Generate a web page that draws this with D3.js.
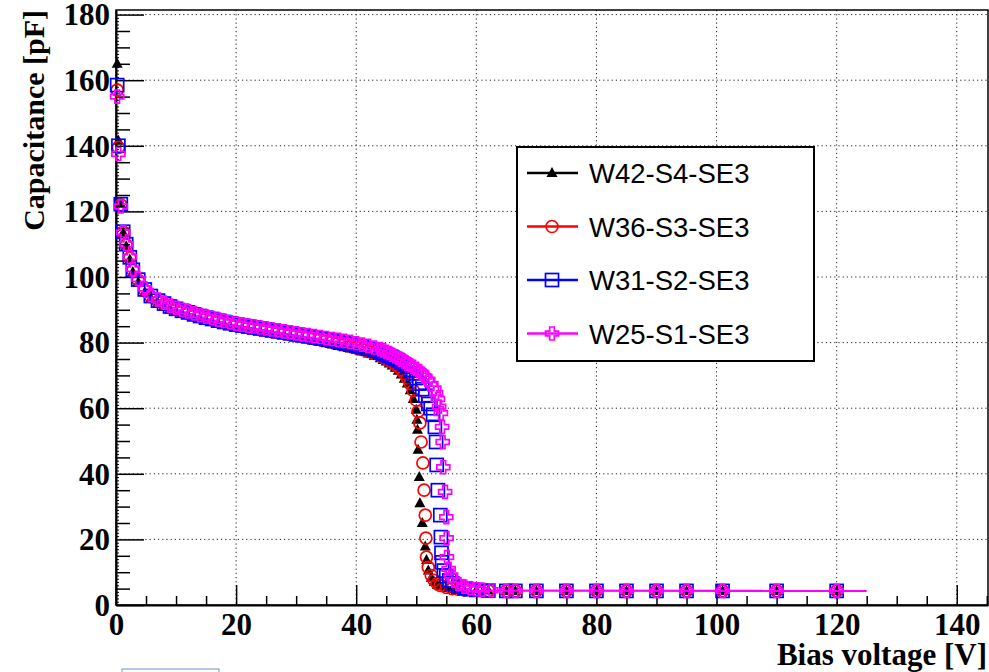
<!DOCTYPE html>
<html>
<head>
<meta charset="utf-8">
<script src="https://cdn.jsdelivr.net/npm/d3@7"></script>
<style>
  body { margin: 0; background: #fff; }
  svg { display: block; }
</style>
</head>
<body>
<div id="chart"></div>
<script>
// low voltage part, shared by all four sensors
let voltLow = [0.2, 0.4, 0.8, 1.2, 1.7, 2.3, 2.8, 3.7, 4.8, 5.8, 7, 8, 9, 10, 11, 12, 13, 14, 15, 16, 17, 18, 19, 20,
               21, 22, 23, 24, 25, 26, 27, 28, 29, 30, 31, 32, 33, 34, 35, 36, 37, 38, 39, 40, 41, 42, 43, 44];
let w42Low = [165, 141.5, 122.3, 113.5, 109.4, 105.3, 101.5, 98.4, 95.4, 93.4, 92, 91.1, 90.2, 89.5, 88.9, 88.4, 87.8, 87.3, 86.8, 86.4, 85.9, 85.5, 85.1, 84.7,
              84.4, 84.1, 83.8, 83.5, 83.2, 82.9, 82.6, 82.3, 82, 81.6, 81.3, 81, 80.6, 80.2, 79.8, 79.4, 79, 78.6, 78.2, 77.8, 77.3, 76.7, 76, 75.2];
let w36Low = [157, 139.5, 122, 113.7, 109.8, 105.8, 102, 99, 96, 94, 92.6, 91.7, 90.8, 90.1, 89.5, 89, 88.4, 87.9, 87.4, 87, 86.5, 86.1, 85.7, 85.3,
              85, 84.7, 84.4, 84.1, 83.8, 83.5, 83.2, 82.9, 82.6, 82.3, 82, 81.7, 81.4, 81, 80.6, 80.2, 79.8, 79.4, 78.9, 78.4, 77.9, 77.3, 76.7, 76];
let w31Low = [158.5, 140, 122.2, 113.8, 110, 106, 102.2, 99.2, 96.2, 94.2, 92.8, 91.9, 91, 90.3, 89.7, 89.2, 88.6, 88.1, 87.6, 87.2, 86.7, 86.3, 85.9, 85.5,
              85.2, 84.9, 84.6, 84.3, 84, 83.7, 83.4, 83.1, 82.8, 82.5, 82.2, 81.9, 81.6, 81.3, 81, 80.6, 80.2, 79.8, 79.4, 79, 78.6, 78.1, 77.6, 77];
let w25Low = [155, 137.5, 121.5, 113.6, 110, 106.1, 102.4, 99.4, 96.5, 94.5, 93.1, 92.2, 91.3, 90.6, 90, 89.5, 88.9, 88.4, 87.9, 87.5, 87, 86.6, 86.2, 85.8,
              85.5, 85.2, 84.9, 84.6, 84.3, 84, 83.7, 83.4, 83.1, 82.8, 82.5, 82.3, 82, 81.7, 81.4, 81.1, 80.8, 80.5, 80.2, 79.8, 79.4, 79, 78.5, 78];

// knee, drop and tail (finer steps)
let w42HighV = [44.5, 45, 45.5, 46, 46.5, 47, 47.5, 48, 48.5, 49, 49.5, 50, 50.1, 50.2, 50.3, 50.5, 50.6, 51, 51.5, 51.7, 52, 52.5, 53, 53.5, 54, 55, 56, 57, 58, 60, 62];
let w42HighC = [74.7, 74.2, 73.6, 73, 72.3, 71.4, 70.3, 69, 67.5, 65.5, 62.8, 59.5, 56.5, 53.4, 47.3, 39, 31, 25, 17.8, 13.7, 10.5, 8.3, 7, 6.2, 5.7, 5.2, 4.9, 4.7, 4.6, 4.5, 4.4];
let w36HighV = [44.5, 45, 45.5, 46, 46.5, 47, 47.5, 48, 48.5, 49, 49.5, 50, 50.3, 50.6, 50.8, 51.1, 51.3, 51.5, 51.6, 51.7, 52, 52.5, 53, 53.5, 54, 55, 56, 57, 58, 60, 62];
let w36HighC = [75.5, 75, 74.5, 74, 73.3, 72.6, 71.7, 70.6, 69.2, 67.5, 65.4, 62.5, 59, 55.5, 49.7, 43.3, 35, 27.4, 20.4, 14.6, 11.5, 9, 7.5, 6.5, 6, 5.4, 5, 4.8, 4.6, 4.5, 4.4];
let w31HighV = [44.5, 45, 45.5, 46, 46.5, 47, 47.5, 48, 48.5, 49, 49.5, 50, 50.5, 51, 51.5, 52, 52.4, 52.8, 53.1, 53.3, 53.4, 53.6, 54, 54.1, 54.2, 54.3, 54.6, 55, 55.5, 56, 57, 58, 59, 60, 62];
let w31HighC = [76.7, 76.3, 75.9, 75.5, 75, 74.5, 73.9, 73.3, 72.6, 71.7, 70.6, 69.2, 67.5, 65.8, 63.8, 61.3, 60, 58, 54.3, 49.7, 42.7, 35, 27.4, 20.7, 15.9, 13, 10.5, 8.8, 7.5, 6.6, 5.6, 5.1, 4.8, 4.6, 4.4];
let w25HighV = [44.5, 45, 45.5, 46, 46.5, 47, 47.5, 48, 48.5, 49, 49.5, 50, 50.5, 51, 51.5, 52, 52.5, 53, 53.3, 53.6, 53.8, 54.1, 54.3, 54.4, 54.5, 54.8, 55, 55.05, 55.1, 55.4, 55.8, 56.3, 57, 58, 59, 60, 61, 62.5];
let w25HighC = [77.6, 77.2, 76.8, 76.3, 75.8, 75.3, 74.8, 74.2, 73.6, 73.1, 72.6, 72, 71.3, 70.5, 69.6, 68.6, 67.4, 66, 64.7, 62.8, 60.5, 58.5, 54.3, 49.7, 42, 34.5, 26.8, 20.4, 14.6, 11, 9, 7.5, 6.4, 5.6, 5.1, 4.8, 4.6, 4.5];

// fully depleted part
let voltFlat = [65, 66.5, 70, 75, 80, 85, 90, 95, 101, 110, 120];
let w42Flat = [4.3, 4.3, 4.3, 4.3, 4.3, 4.3, 4.3, 4.3, 4.3, 4.3, 4.3];
let w36Flat = [4.3, 4.3, 4.3, 4.3, 4.3, 4.3, 4.3, 4.3, 4.3, 4.3, 4.3];
let w31Flat = [4.3, 4.3, 4.3, 4.3, 4.3, 4.3, 4.3, 4.3, 4.3, 4.3, 4.3];
let w25Flat = [4.3, 4.3, 4.3, 4.3, 4.3, 4.3, 4.3, 4.3, 4.3, 4.3, 4.3];
// magenta line drawn along the plateau, ending past the last point
let w25LineV = [60, 125];
let w25LineC = [4.4, 4.3];

let names = ["W42-S4-SE3", "W36-S3-SE3", "W31-S2-SE3", "W25-S1-SE3"];
let colors = ["#000000", "#ff0000", "#0000ff", "#ff00ff"];
let markers = ["triangle", "circle", "square", "cross"];

let xTicks = [0, 20, 40, 60, 80, 100, 120, 140];
let yTicks = [0, 20, 40, 60, 80, 100, 120, 140, 160, 180];

let screen = {width: 989, height: 672};
let frame = {left: 116, right: 988, top: 10, bottom: 605};

let join = function(vl, cl, vh, ch, vf, cf) {
    let pts = [];
    vl.forEach(function(v, i) { pts.push({v: v, c: cl[i]}); });
    vh.forEach(function(v, i) { pts.push({v: v, c: ch[i]}); });
    vf.forEach(function(v, i) { pts.push({v: v, c: cf[i]}); });
    return pts;
};

let series = [
    join(voltLow, w42Low, w42HighV, w42HighC, voltFlat, w42Flat),
    join(voltLow, w36Low, w36HighV, w36HighC, voltFlat, w36Flat),
    join(voltLow, w31Low, w31HighV, w31HighC, voltFlat, w31Flat),
    join(voltLow, w25Low, w25HighV, w25HighC, voltFlat, w25Flat)
];

let xScale = d3.scaleLinear().domain([0, 145.2]).range([frame.left, frame.right]);
let yScale = d3.scaleLinear().domain([0, 181.4]).range([frame.bottom, frame.top]);

let svg = d3.select("#chart").append("svg")
    .attr("width", screen.width)
    .attr("height", screen.height);

// dotted grid
let grid = svg.append("g");
grid.selectAll(".gx").data(xTicks.filter(function(t) { return t > 0; }))
    .enter().append("line")
    .attr("x1", function(d) { return xScale(d); }).attr("x2", function(d) { return xScale(d); })
    .attr("y1", frame.top).attr("y2", frame.bottom)
    .attr("stroke", "#222").attr("stroke-width", 1).attr("stroke-dasharray", "1.2,3");
grid.selectAll(".gy").data(yTicks.filter(function(t) { return t > 0; }))
    .enter().append("line")
    .attr("x1", frame.left).attr("x2", frame.right)
    .attr("y1", function(d) { return yScale(d); }).attr("y2", function(d) { return yScale(d); })
    .attr("stroke", "#222").attr("stroke-width", 1).attr("stroke-dasharray", "1.2,3");

// frame
svg.append("rect")
    .attr("x", frame.left).attr("y", frame.top)
    .attr("width", frame.right - frame.left).attr("height", frame.bottom - frame.top)
    .attr("fill", "none").attr("stroke", "#000").attr("stroke-width", 1.5);

// ROOT style axes, ticks pointing inside
let xAxis = svg.append("g").attr("transform", "translate(0," + frame.bottom + ")");
xAxis.call(d3.axisBottom(xScale).tickValues(d3.range(0, 146, 5)).tickSize(0).tickFormat(""));
xAxis.select(".domain").attr("stroke-width", 2);
xAxis.selectAll(".tick line")
    .attr("y2", function(d) { return d % 20 === 0 ? -20 : -9; })
    .attr("stroke-width", 1.5);
xAxis.selectAll(".tick").filter(function(d) { return d % 20 === 0; })
    .append("text")
    .attr("y", 30).attr("fill", "#000")
    .attr("text-anchor", "middle")
    .style("font-family", "'Liberation Serif', 'Times New Roman', serif")
    .style("font-weight", "bold").style("font-size", "31px")
    .text(function(d) { return d; });

let yAxis = svg.append("g").attr("transform", "translate(" + frame.left + ",0)");
yAxis.call(d3.axisLeft(yScale).tickValues(d3.range(0, 181, 1)).tickSize(0).tickFormat(""));
yAxis.select(".domain").attr("stroke-width", 2);
yAxis.selectAll(".tick line")
    .attr("x2", function(d) { return d % 20 === 0 ? 28 : (d % 5 === 0 ? 14 : 3); })
    .attr("stroke-width", function(d) { return d % 5 === 0 ? 1.5 : 1; });
yAxis.selectAll(".tick").filter(function(d) { return yTicks.indexOf(d) >= 0; })
    .append("text")
    .attr("x", -6).attr("dy", "0.33em").attr("fill", "#000")
    .attr("text-anchor", "end")
    .style("font-family", "'Liberation Serif', 'Times New Roman', serif")
    .style("font-weight", "bold").style("font-size", "31px")
    .text(function(d) { return d; });

// axis titles
svg.append("text")
    .attr("x", 987).attr("y", 665)
    .attr("text-anchor", "end")
    .style("font-family", "'Liberation Serif', 'Times New Roman', serif")
    .style("font-weight", "bold").style("font-size", "31px")
    .text("Bias voltage [V]");
svg.append("text")
    .attr("transform", "translate(44," + frame.top + ") rotate(-90)")
    .attr("text-anchor", "end")
    .style("font-family", "'Liberation Serif', 'Times New Roman', serif")
    .style("font-weight", "bold").style("font-size", "30px")
    .text("Capacitance [pF]");

// marker shapes
let drawMarker = function(g, type, color) {
    if (type === "triangle") {
        g.append("path").attr("d", "M0,-6L5.5,4L-5.5,4Z").attr("fill", color);
    } else if (type === "circle") {
        g.append("circle").attr("r", 6).attr("fill", "none").attr("stroke", color).attr("stroke-width", 1.7);
    } else if (type === "square") {
        g.append("rect").attr("x", -6.5).attr("y", -6.5).attr("width", 13).attr("height", 13)
            .attr("fill", "none").attr("stroke", color).attr("stroke-width", 1.7);
    } else {
        let a = 2.3, b = 6.5;
        g.append("path")
            .attr("d", "M" + (-a) + "," + (-b) + "H" + a + "V" + (-a) + "H" + b + "V" + a + "H" + a + "V" + b +
                       "H" + (-a) + "V" + a + "H" + (-b) + "V" + (-a) + "H" + (-a) + "Z")
            .attr("fill", "none").attr("stroke", color).attr("stroke-width", 1.7);
    }
};

let plot = svg.append("g");
series.forEach(function(pts, k) {
    let g = plot.append("g");
    if (k === 3) {
        let linePts = w25LineV.map(function(v, i) { return {v: v, c: w25LineC[i]}; });
        g.append("path")
            .datum(linePts)
            .attr("fill", "none").attr("stroke", colors[k]).attr("stroke-width", 2.2)
            .attr("d", d3.line().x(function(d) { return xScale(d.v); }).y(function(d) { return yScale(d.c); }));
    }
    g.selectAll(".m").data(pts).enter().append("g")
        .attr("transform", function(d) { return "translate(" + xScale(d.v) + "," + yScale(d.c) + ")"; })
        .each(function() { drawMarker(d3.select(this), markers[k], colors[k]); });
});

// legend
let legend = svg.append("g");
legend.append("rect")
    .attr("x", 517).attr("y", 147).attr("width", 297).attr("height", 214)
    .attr("fill", "#fff").attr("stroke", "#000").attr("stroke-width", 2);
names.forEach(function(name, k) {
    let cy = 173 + k * 53.5;
    legend.append("line")
        .attr("x1", 527).attr("x2", 578).attr("y1", cy).attr("y2", cy)
        .attr("stroke", colors[k]).attr("stroke-width", 2.5);
    let m = legend.append("g").attr("transform", "translate(552," + cy + ")");
    drawMarker(m, markers[k], colors[k]);
    legend.append("text")
        .attr("x", 589).attr("y", cy + 10)
        .style("font-family", "'Liberation Sans', Arial, sans-serif")
        .style("font-size", "27.5px")
        .text(name);
});

// stray box at the bottom of the screenshot
svg.append("rect")
    .attr("x", 122).attr("y", 669).attr("width", 97).attr("height", 10)
    .attr("fill", "none").attr("stroke", "#6f93c9").attr("stroke-width", 1);
</script>
</body>
</html>
